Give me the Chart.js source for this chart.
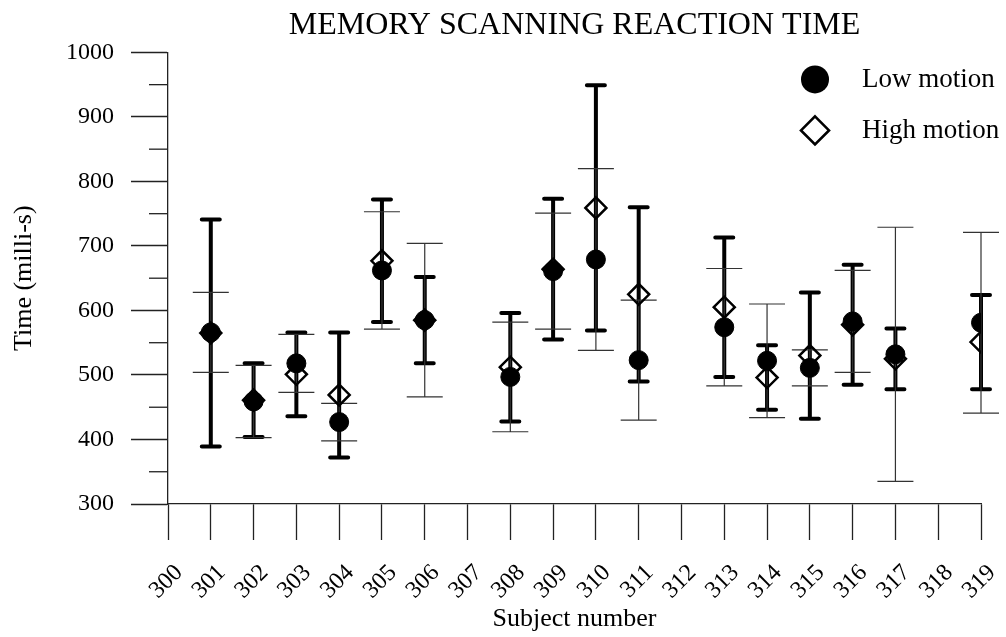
<!DOCTYPE html>
<html>
<head>
<meta charset="utf-8">
<title>Memory scanning reaction time</title>
<script src="https://cdn.jsdelivr.net/npm/chart.js@4.4.1/dist/chart.umd.min.js"></script>
<style>
  html, body { margin: 0; padding: 0; background: #fff; }
  #wrap { width: 1006px; height: 637px; }
</style>
</head>
<body>
<div id="wrap"><canvas id="chart" width="1006" height="637"></canvas></div>
<script>
// Subjects with measurements (300, 307, 312 and 318 have none)
const subjects = [301, 302, 303, 304, 305, 306, 308, 309, 310, 311, 313, 314, 315, 316, 317, 319];

// Low motion: mean reaction time and error-bar half-length (ms)
const lowMean = [566, 459, 518, 427, 662, 585, 497, 661, 679, 523, 574, 522, 511, 583, 532, 581];
const lowErr  = [ 62,  56,  45,  29,  91, 119,  85,  90, 141,  93,  91,  88,  28,  79, 197, 140];

// High motion: mean reaction time and error-bar half-length (ms)
const highMean = [565, 461, 501, 469, 677, 585, 512, 664, 759, 625, 605, 496, 530, 578, 525, 551];
const highErr  = [176,  57,  65,  97,  95,  67,  84, 109, 190, 135, 108,  50,  98,  93,  47,  73];

// Axis ranges and tick steps
const xRange = { min: 300, max: 319, step: 1 };
const yRange = { min: 300, max: 1000, step: 100, minorStep: 50 };

const FONT = "'Liberation Serif', 'Times New Roman', serif";

function points(means) {
  return subjects.map((s, i) => ({ x: s, y: means[i] }));
}

// Vertical error bars with caps, placed through the chart scales
const errorBarPlugin = {
  id: 'errorBars',
  beforeDatasetsDraw(chart) {
    const { ctx } = chart;
    const xs = chart.scales.x, ys = chart.scales.y;
    const order = [1, 0];
    order.forEach(di => {
      const ds = chart.data.datasets[di];
      const meta = chart.getDatasetMeta(di);
      if (meta.hidden || !ds.errors) return;
      const st = ds.errorStyle;
      ctx.save();
      ctx.strokeStyle = st.color;
      ctx.lineWidth = st.width;
      ctx.lineCap = st.round ? 'round' : 'butt';
      ds.data.forEach((p, j) => {
        const e = ds.errors[j];
        const px = xs.getPixelForValue(p.x);
        const top = ys.getPixelForValue(p.y + e);
        const bot = ys.getPixelForValue(p.y - e);
        ctx.beginPath();
        ctx.moveTo(px, top);
        ctx.lineTo(px, bot);
        ctx.moveTo(px - st.cap, top);
        ctx.lineTo(px + st.cap, top);
        ctx.moveTo(px - st.cap, bot);
        ctx.lineTo(px + st.cap, bot);
        ctx.stroke();
      });
      ctx.restore();
    });
  }
};

// Short minor ticks between the labelled y ticks
const minorTickPlugin = {
  id: 'minorTicks',
  afterDraw(chart) {
    const { ctx, chartArea } = chart;
    const ys = chart.scales.y;
    ctx.save();
    ctx.strokeStyle = '#222';
    ctx.lineWidth = 1.3;
    for (let v = yRange.min + yRange.minorStep; v < yRange.max; v += yRange.step) {
      const py = ys.getPixelForValue(v);
      ctx.beginPath();
      ctx.moveTo(chartArea.left - 19, py);
      ctx.lineTo(chartArea.left, py);
      ctx.stroke();
    }
    ctx.restore();
  }
};

// Legend in the upper right corner of the plot area
const cornerLegendPlugin = {
  id: 'cornerLegend',
  afterDraw(chart) {
    const { ctx, chartArea } = chart;
    const symX = chartArea.right - 166;
    const textX = chartArea.right - 119;
    const rows = [chartArea.top + 27, chartArea.top + 78];
    chart.data.datasets.forEach((ds, i) => {
      const y = rows[i];
      ctx.save();
      ctx.strokeStyle = ds.borderColor;
      ctx.fillStyle = ds.backgroundColor;
      ctx.lineWidth = ds.borderWidth;
      ctx.beginPath();
      const r = 14;
      if (ds.pointStyle === 'circle') {
        ctx.arc(symX, y, r, 0, Math.PI * 2);
        ctx.fill();
      } else {
        ctx.moveTo(symX, y - r);
        ctx.lineTo(symX + r, y);
        ctx.lineTo(symX, y + r);
        ctx.lineTo(symX - r, y);
        ctx.closePath();
        ctx.lineWidth = 2.6;
        ctx.stroke();
      }
      ctx.fillStyle = '#000';
      ctx.font = '27px ' + FONT;
      ctx.textAlign = 'left';
      ctx.textBaseline = 'middle';
      ctx.fillText(ds.label, textX, y + 1);
      ctx.restore();
    });
  }
};

new Chart(document.getElementById('chart'), {
  type: 'scatter',
  data: {
    datasets: [
      {
        label: 'Low motion',
        data: points(lowMean),
        errors: lowErr,
        errorStyle: { color: '#333', width: 1.2, cap: 18, round: false },
        pointStyle: 'circle',
        pointRadius: 9.5,
        pointHoverRadius: 9.5,
        backgroundColor: '#000',
        borderColor: '#000',
        borderWidth: 1
      },
      {
        label: 'High motion',
        data: points(highMean),
        errors: highErr,
        errorStyle: { color: '#000', width: 4, cap: 9, round: true },
        pointStyle: 'rectRot',
        pointRadius: 10.5,
        pointHoverRadius: 10.5,
        backgroundColor: 'rgba(0,0,0,0)',
        borderColor: '#000',
        borderWidth: 2.5
      }
    ]
  },
  options: {
    responsive: false,
    devicePixelRatio: 1,
    animation: false,
    layout: { padding: { left: 0, right: 25, top: 0, bottom: 0 } },
    plugins: {
      legend: { display: false },
      tooltip: { enabled: false },
      title: {
        display: true,
        text: 'MEMORY SCANNING REACTION TIME',
        fullSize: false,
        color: '#000',
        font: { family: FONT, size: 32, weight: 'normal' },
        padding: { top: 6, bottom: 8 }
      }
    },
    scales: {
      x: {
        type: 'linear',
        min: xRange.min,
        max: xRange.max,
        afterFit(scale) {
          scale.height = 133;
          scale.paddingLeft = 0;
          scale.paddingRight = 0;
        },
        ticks: {
          stepSize: xRange.step,
          autoSkip: false,
          minRotation: 45,
          maxRotation: 45,
          labelOffset: 11,
          padding: 19,
          color: '#000',
          font: { family: FONT, size: 24 },
          callback: v => String(v)
        },
        grid: {
          display: true,
          drawOnChartArea: false,
          drawTicks: true,
          tickLength: 36,
          tickColor: '#222',
          tickWidth: 1.3
        },
        border: { display: true, color: '#222', width: 1.3 },
        title: {
          display: true,
          text: 'Subject number',
          color: '#000',
          font: { family: FONT, size: 26 },
          padding: { top: 0, bottom: 2 }
        }
      },
      y: {
        type: 'linear',
        min: yRange.min,
        max: yRange.max,
        afterFit(scale) { scale.width = 168; },
        ticks: {
          stepSize: yRange.step,
          padding: 17,
          color: '#000',
          font: { family: FONT, size: 24 },
          callback: v => String(v)
        },
        grid: {
          display: true,
          drawOnChartArea: false,
          drawTicks: true,
          tickLength: 37,
          tickColor: '#222',
          tickWidth: 1.3
        },
        border: { display: true, color: '#222', width: 1.3 },
        title: {
          display: true,
          text: 'Time (milli-s)',
          color: '#000',
          font: { family: FONT, size: 26 },
          padding: { top: 9, bottom: 0 }
        }
      }
    }
  },
  plugins: [errorBarPlugin, minorTickPlugin, cornerLegendPlugin]
});
</script>
</body>
</html>
